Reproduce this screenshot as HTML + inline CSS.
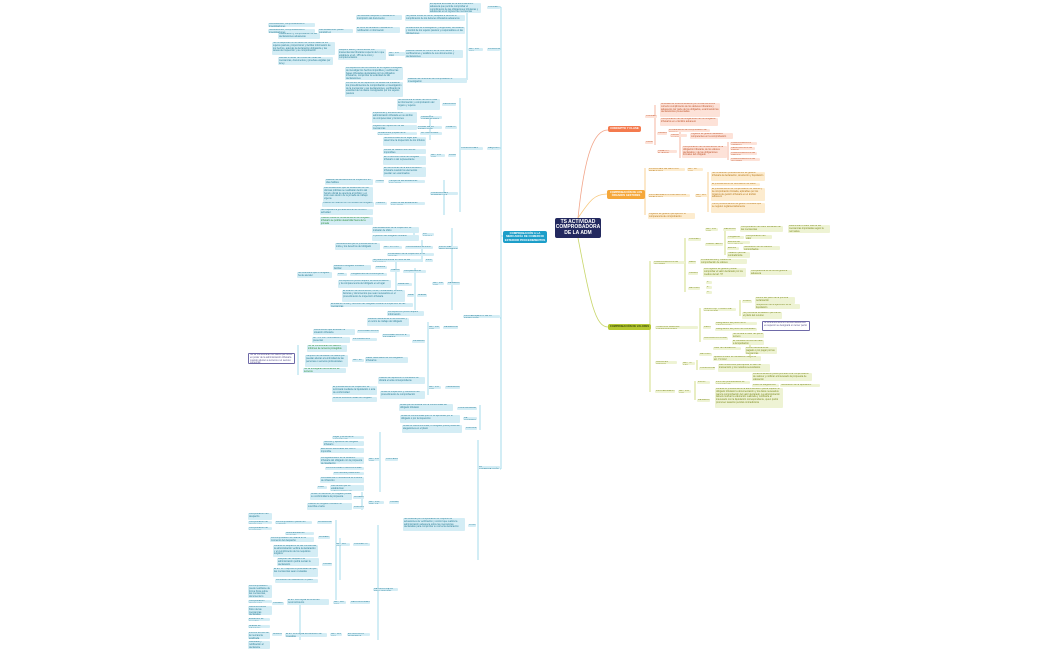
<!DOCTYPE html>
<html><head><meta charset="utf-8"><style>
html,body{margin:0;padding:0;background:#fff;}
#c{position:relative;width:1050px;height:650px;overflow:hidden;font-family:"Liberation Sans",sans-serif;}
#c i{position:absolute;display:block;font-style:normal;font-size:2.4px;line-height:2.8px;color:#2b7f98;background:#d4edf5;border-radius:1px;overflow:hidden;padding:0 1px;box-sizing:border-box;}
#c i.o{background:#fde2d8;color:#c0562d;}
#c i.y{background:#fdeccf;color:#b7791a;}
#c i.g{background:#eef3d4;color:#7c8a1c;}
#c i.w{background:#fff;border:1px solid #6f6aa8;color:#5b5690;}
#c i.t{color:#2d8f3a;}
.m{position:absolute;color:#fff;font-weight:bold;text-align:center;border-radius:2px;display:flex;align-items:center;justify-content:center;line-height:1.1;}
svg{position:absolute;left:0;top:0;}
</style></head><body><div id="c">
<svg width="1050" height="650" fill="none" stroke-width="0.8">
<g stroke="#8fd3e6">
<path d="M503 236 H501 M501 7 V469"/>
<path d="M501 7 H500 M501 49 H500 M501 148 H500 M501 318 H500 M501 469 H500"/>
<path d="M467 7 V80 M460 98 V212 M430 115 V140 M444 180 V215 M452 228 V310 M422 240 V262 M415 268 V310 M428 322 V395 M480 405 V430 M478 440 V560 M380 432 V492 M362 492 V510 M378 525 V640 M336 520 V600 M340 538 V580 M300 600 V640 M298 345 V375 M396 260 V300 M414 232 V240"/>
</g>
<g stroke="#f2a58a"><path d="M578 218 C585 150,595 130,608 130"/><path d="M655 105 V145 M680 130 V158 M728 142 V160"/></g>
<g stroke="#f8c77a"><path d="M578 218 C590 200,595 194,607 194"/><path d="M645 168 V215 M708 172 V212"/></g>
<g stroke="#c8d66a"><path d="M578 238 C590 300,595 327,608 327"/><path d="M650 261 V392 M685 238 V292 M700 308 V342 M725 228 V255 M697 360 V370 M695 381 V400 M740 300 V316 M750 345 V360"/></g>
</svg>

<div class="m" style="left:555px;top:218px;width:46px;height:20px;background:#23295f;font-size:5px;">TS ACTIVIDAD COMPROBADORA DE LA ADM</div>
<div class="m" style="left:503px;top:231px;width:44px;height:12px;background:#1c9ec9;font-size:2.8px;">COMPROBACIÓN A LA MERCANCÍA DE COMERCIO EXTERIOR PROCEDIMIENTOS</div>
<div class="m" style="left:608px;top:126px;width:33px;height:6px;background:#f47a4e;font-size:2.8px;">CONCEPTO Y CLASE</div>
<div class="m" style="left:607px;top:190px;width:38px;height:9px;background:#f5a73a;font-size:2.6px;">COMPROBACIÓN DE LOS ÓRGANOS GESTORES</div>
<div class="m" style="left:608px;top:324px;width:43px;height:6px;background:#b5c832;font-size:2.6px;color:#3a4a08;">COMPROBACIÓN DE VALORES</div>

<!-- left side -->
<i style="left:429px;top:3px;width:52px;height:10px">Es aquella actividad de la administración aduanera que permite comprobar el cumplimiento de las obligaciones tributarias y aduaneras en el ingreso de mercancías</i>
<i style="left:487px;top:6px;width:13px;height:3px">CONCEPTO</i>
<i style="left:356px;top:15px;width:46px;height:5px">Se efectúan después o mediante la inscripción del documento</i>
<i style="left:405px;top:15px;width:60px;height:6px">Se puede iniciar de oficio, después a verificar el cumplimiento de los deberes tributarios aduaneros</i>
<i style="left:268px;top:23px;width:47px;height:4px">Verificaciones, comprobaciones e investigaciones</i>
<i style="left:268px;top:29px;width:47px;height:4px">Notificaciones, comprobaciones e investigaciones</i>
<i style="left:318px;top:29px;width:35px;height:4px">Las actuaciones puede consistir en</i>
<i style="left:356px;top:27px;width:44px;height:6px">El inicio de actuación mediante la notificación o información</i>
<i style="left:405px;top:27px;width:60px;height:7px">Actuaciones de investigación y diligencias, verificación y control de los sujetos pasivos y responsables en las obligaciones</i>
<i style="left:278px;top:33px;width:42px;height:6px">Clasificación y comprobación de las declaraciones aduaneras</i>
<i style="left:272px;top:42px;width:63px;height:13px">Se corresponde con el deber de conformidad de los sujetos pasivos, proporcionar y facilitar información de los hechos, además la declaración obligatoria y las tareas de inspección y su comprobación</i>
<i style="left:278px;top:57px;width:55px;height:8px">Revisar el deber de conservar todas las mercancías, documentos y pruebas exigidas por la ley</i>
<i style="left:338px;top:49px;width:48px;height:11px">Requerir datos y documentos con trascendencia tributaria respecto de lo que establece el art. 155 de la LGA y complementarios</i>
<i style="left:388px;top:52px;width:17px;height:4px">ART. 155 LGA</i>
<i style="left:405px;top:50px;width:58px;height:8px">Realizar tareas de control de la información y verificaciones y análisis de sus documentos y declaraciones</i>
<i style="left:468px;top:48px;width:15px;height:3px">ART. 145 LGA</i>
<i style="left:487px;top:48px;width:13px;height:3px">FUNCIONES</i>
<i style="left:345px;top:67px;width:58px;height:13px">La inspección de los tributos es el órgano encargado de investigar los hechos imponibles y verificar las bases tributarias declaradas por los obligados tributarios, comprobar la veracidad de las declaraciones</i>
<i style="left:345px;top:82px;width:58px;height:15px">La función de la inspección se desarrolla mediante los procedimientos de comprobación e investigación de la mercancía y sus declaraciones, verificando la exactitud de los datos consignados por los sujetos pasivos</i>
<i style="left:407px;top:78px;width:60px;height:5px">Realizar las funciones de comprobación e investigación</i>
<i style="left:397px;top:99px;width:43px;height:11px">Se encuentra el deber de reunir toda la información y comprobación del órgano y sujetos</i>
<i style="left:442px;top:103px;width:14px;height:3px">PERSONAL</i>
<i style="left:372px;top:112px;width:45px;height:11px">Inspectores y técnicos de la administración tributaria en su ámbito de competencias y funciones</i>
<i style="left:420px;top:116px;width:22px;height:3px">ÓRGANOS COMPETENTES</i>
<i style="left:372px;top:125px;width:45px;height:5px">Lugares de inspección de las mercancías</i>
<i style="left:417px;top:126px;width:25px;height:3px">LUGAR DE LA INSPECCIÓN</i>
<i style="left:445px;top:126px;width:12px;height:3px">OBJETO</i>
<i style="left:377px;top:132px;width:40px;height:3px">Actuaciones propias de la inspección</i>
<i style="left:420px;top:132px;width:22px;height:3px">ACTUACIONES</i>
<i style="left:383px;top:137px;width:43px;height:9px">Se lleva a cabo en el lugar que determine la inspección de los tributos</i>
<i style="left:383px;top:149px;width:43px;height:5px">Donde se realicen los hechos imponibles</i>
<i style="left:383px;top:156px;width:43px;height:9px">En el domicilio fiscal del obligado tributario o del representante</i>
<i style="left:383px;top:167px;width:43px;height:10px">En las oficinas de la administración tributaria cuando los elementos puedan ser examinados</i>
<i style="left:430px;top:154px;width:15px;height:3px">ART. 151 LGT</i>
<i style="left:448px;top:154px;width:8px;height:3px">LUGAR</i>
<i style="left:460px;top:147px;width:23px;height:3px">CONDICIONES</i>
<i style="left:487px;top:147px;width:13px;height:3px">REQUISITOS</i>
<i style="left:325px;top:179px;width:48px;height:6px">Realizar las actuaciones de inspección en días hábiles</i>
<i style="left:375px;top:180px;width:9px;height:3px">HORARIO</i>
<i style="left:388px;top:180px;width:37px;height:3px">Tiempo de las actuaciones inspectoras</i>
<i style="left:323px;top:187px;width:50px;height:15px">Las actuaciones que se desarrollen en las oficinas públicas se realizarán dentro del horario oficial de apertura al público y en todo caso dentro de la jornada de trabajo vigente</i>
<i style="left:322px;top:202px;width:52px;height:5px">Cuando se realicen en los locales del obligado</i>
<i style="left:320px;top:209px;width:53px;height:6px">Se respetará la jornada laboral de oficina o actividad</i>
<i class="t" style="left:320px;top:217px;width:53px;height:8px">Cuando medie el consentimiento del obligado tributario se podrán desarrollar fuera de la jornada</i>
<i style="left:375px;top:202px;width:12px;height:3px">TIEMPO</i>
<i style="left:390px;top:202px;width:35px;height:3px">Plazo de las actuaciones inspectoras</i>
<i style="left:430px;top:192px;width:28px;height:3px">CONDICIONES TEMPORALES</i>
<i style="left:372px;top:227px;width:47px;height:6px">Las actuaciones de la inspección se iniciarán de oficio</i>
<i style="left:372px;top:235px;width:47px;height:6px">A petición del obligado tributario</i>
<i style="left:422px;top:233px;width:12px;height:3px">Por iniciativa</i>
<i style="left:438px;top:246px;width:20px;height:3px">INICIO DEL PROCEDIMIENTO</i>
<i style="left:335px;top:243px;width:45px;height:7px">Notificaciones que el procedimiento se inicia y los derechos del obligado</i>
<i style="left:383px;top:246px;width:19px;height:3px">ART. 147 LGT</i>
<i style="left:405px;top:246px;width:28px;height:3px">Comunicación de inicio</i>
<i style="left:387px;top:253px;width:47px;height:3px">Personación de la inspección en el domicilio</i>
<i style="left:372px;top:259px;width:50px;height:3px">Se podrá comunicar el inicio de las actuaciones</i>
<i style="left:425px;top:259px;width:8px;height:3px">Inicio</i>
<i style="left:333px;top:265px;width:38px;height:5px">Deberá el obligado tributario facilitar</i>
<i style="left:375px;top:266px;width:12px;height:3px">Deberes</i>
<i style="left:297px;top:272px;width:35px;height:6px">Se entenderá que el obligado ha de atender</i>
<i style="left:337px;top:273px;width:10px;height:3px">Plazo</i>
<i style="left:350px;top:273px;width:37px;height:3px">Obligaciones del contribuyente</i>
<i style="left:390px;top:269px;width:10px;height:3px">Citación</i>
<i style="left:403px;top:270px;width:23px;height:3px">Comparecencia</i>
<i style="left:338px;top:280px;width:53px;height:8px">La inspección podrá requerir la documentación y la comparecencia del obligado en el lugar</i>
<i style="left:397px;top:283px;width:15px;height:3px">Desarrollo</i>
<i style="left:342px;top:290px;width:63px;height:12px">El examen de documentos, libros, contabilidad, ficheros, facturas y documentos que sean necesarios en el procedimiento de inspección tributaria</i>
<i style="left:407px;top:294px;width:7px;height:3px">Medios</i>
<i style="left:417px;top:294px;width:10px;height:3px">Análisis</i>
<i style="left:330px;top:303px;width:83px;height:4px">Entrada en fincas y domicilio del obligado durante la inspección de las mercancías</i>
<i style="left:432px;top:282px;width:12px;height:3px">ART. 142 LGT</i>
<i style="left:447px;top:282px;width:13px;height:3px">DESARROLLO</i>
<i style="left:463px;top:315px;width:37px;height:3px">PROCEDIMIENTO DE LA INSPECCIÓN</i>
<i style="left:387px;top:311px;width:37px;height:5px">La inspección podrá requerir información</i>
<i style="left:367px;top:318px;width:42px;height:8px">Deberá mantenerse en el domicilio y el centro de trabajo del obligado</i>
<i style="left:428px;top:326px;width:12px;height:3px">ART. 142 LGT</i>
<i style="left:443px;top:326px;width:15px;height:3px">DESARROLLO</i>
<i style="left:313px;top:329px;width:42px;height:6px">Documentos que acrediten la situación tributaria</i>
<i style="left:357px;top:330px;width:22px;height:3px">DOCUMENTACIÓN</i>
<i style="left:312px;top:337px;width:38px;height:6px">Art. 171 LGT información a presentar</i>
<i style="left:352px;top:338px;width:25px;height:3px">INFORMACIÓN</i>
<i style="left:382px;top:334px;width:28px;height:3px">DOCUMENTACIÓN E INFORMES</i>
<i style="left:412px;top:340px;width:13px;height:3px">DILIGENCIAS</i>
<i class="w" style="left:248px;top:353px;width:47px;height:11px">No se comunicarán los datos que obren en poder de la administración tributaria cuando afecten a terceros o el secreto comercial</i>
<i class="t" style="left:307px;top:345px;width:40px;height:7px">No se comunicarán los datos e informes de terceros protegidos</i>
<i style="left:305px;top:355px;width:43px;height:12px">Tampoco se facilitarán los datos que puedan afectar a la intimidad de las personas o secretos profesionales</i>
<i class="t" style="left:303px;top:368px;width:43px;height:5px">No se entregarán documentos de terceros</i>
<i style="left:352px;top:359px;width:12px;height:3px">ART. 99</i>
<i style="left:365px;top:357px;width:43px;height:6px">Datos reservados de los obligados tributarios</i>
<i style="left:378px;top:377px;width:47px;height:7px">Cuando la inspección lo considere se dictará el acta correspondiente</i>
<i style="left:332px;top:386px;width:45px;height:9px">El procedimiento de inspección se terminará mediante la liquidación o acta de conformidad</i>
<i style="left:332px;top:397px;width:45px;height:5px">Acta de disconformidad del obligado</i>
<i style="left:380px;top:391px;width:45px;height:8px">Actas de inspección y resolución del procedimiento de comprobación</i>
<i style="left:428px;top:386px;width:13px;height:3px">ART. 153 LGT</i>
<i style="left:445px;top:386px;width:15px;height:3px">TERMINACIÓN</i>
<i style="left:399px;top:404px;width:54px;height:7px">Actas que se levanta con la conformidad del obligado tributario</i>
<i style="left:457px;top:407px;width:20px;height:3px">CONFORMIDAD</i>
<i style="left:400px;top:415px;width:60px;height:8px">Actas de conformidad que no se aprueban por el obligado o por la inspección</i>
<i style="left:463px;top:417px;width:14px;height:3px">DE ACUERDO</i>
<i style="left:402px;top:425px;width:60px;height:8px">Actas de disconformidad, el obligado podrá presentar alegaciones en el plazo</i>
<i style="left:465px;top:427px;width:12px;height:3px">DISCONF.</i>
<i style="left:478px;top:466px;width:22px;height:3px">LA COMPROBACIÓN</i>
<i style="left:332px;top:436px;width:32px;height:3px">Lugar y fecha de la comprobación</i>
<i style="left:323px;top:441px;width:41px;height:5px">Nombre y apellidos del obligado tributario</i>
<i style="left:320px;top:448px;width:44px;height:5px">Elementos esenciales del hecho imponible</i>
<i style="left:320px;top:457px;width:44px;height:7px">La regularización de la situación tributaria del obligado con la propuesta de liquidación</i>
<i style="left:325px;top:467px;width:39px;height:3px">La conformidad o disconformidad</i>
<i style="left:333px;top:472px;width:31px;height:3px">Los trámites posteriores</i>
<i style="left:320px;top:477px;width:44px;height:6px">La existencia o inexistencia de indicios de infracción</i>
<i style="left:317px;top:486px;width:10px;height:3px">Plazo</i>
<i style="left:330px;top:485px;width:34px;height:6px">Las demás que se establezcan reglamentariamente</i>
<i style="left:368px;top:458px;width:12px;height:3px">ART. 153 LGT</i>
<i style="left:385px;top:458px;width:13px;height:3px">CONTENIDO</i>
<i style="left:310px;top:493px;width:42px;height:7px">Actas con acuerdo, el obligado presta su conformidad a la propuesta</i>
<i style="left:307px;top:503px;width:45px;height:7px">Cuando el obligado tributario no suscriba el acta</i>
<i style="left:353px;top:496px;width:11px;height:3px">ACUERDO</i>
<i style="left:353px;top:506px;width:11px;height:3px">DISCONF.</i>
<i style="left:368px;top:501px;width:16px;height:3px">ART. 154-157 LGT</i>
<i style="left:389px;top:501px;width:10px;height:3px">CLASES</i>
<i style="left:403px;top:518px;width:62px;height:13px">Se entiende por comprobación el conjunto de actuaciones de verificación y control que realiza la administración aduanera sobre las mercancías declaradas para comprobar su correcta declaración</i>
<i style="left:468px;top:524px;width:8px;height:3px">OTROS</i>
<i style="left:248px;top:513px;width:24px;height:7px">Comprobación del despacho</i>
<i style="left:248px;top:521px;width:24px;height:3px">Comprobación de documentos</i>
<i style="left:248px;top:527px;width:24px;height:3px">Comprobación de mercancías</i>
<i style="left:275px;top:521px;width:37px;height:3px">La comprobación puede ser realizada</i>
<i style="left:317px;top:521px;width:15px;height:3px">MODALIDADES</i>
<i style="left:285px;top:532px;width:29px;height:3px">Automatizada del despacho</i>
<i style="left:270px;top:537px;width:44px;height:5px">La comprobación se realiza en el momento del despacho</i>
<i style="left:318px;top:536px;width:12px;height:3px">MOMENTO</i>
<i style="left:273px;top:545px;width:45px;height:12px">Durante el despacho de las mercancías, la administración verifica la declaración y el cumplimiento de los requisitos exigidos</i>
<i style="left:277px;top:558px;width:42px;height:8px">Después del despacho la administración podrá revisar la declaración</i>
<i style="left:273px;top:568px;width:45px;height:9px">El art. 127 dispone la posibilidad de que las mercancías sean revisadas</i>
<i style="left:275px;top:579px;width:43px;height:4px">La revisión se realizará en el plazo</i>
<i style="left:322px;top:563px;width:10px;height:3px">CLASES</i>
<i style="left:335px;top:543px;width:15px;height:3px">ART. 126 LGA</i>
<i style="left:353px;top:543px;width:17px;height:3px">CONCEPTO</i>
<i style="left:373px;top:588px;width:25px;height:3px">REVISIÓN DE LA DECLARACIÓN</i>
<i style="left:248px;top:585px;width:24px;height:13px">La comprobación puede realizarse de forma física sobre las mercancías, documental o mediante análisis</i>
<i style="left:248px;top:600px;width:24px;height:3px">Comprobación documental</i>
<i style="left:248px;top:606px;width:24px;height:9px">Reconocimiento físico de las mercancías declaradas</i>
<i style="left:272px;top:602px;width:12px;height:3px">CLASES</i>
<i style="left:287px;top:599px;width:42px;height:6px">El art. 128 regula la forma del reconocimiento</i>
<i style="left:333px;top:601px;width:13px;height:3px">ART. 128 LGA</i>
<i style="left:350px;top:601px;width:20px;height:3px">RECONOCIMIENTO</i>
<i style="left:248px;top:618px;width:22px;height:3px">Extracción de muestras</i>
<i style="left:248px;top:625px;width:22px;height:3px">Análisis de laboratorio</i>
<i style="left:248px;top:632px;width:22px;height:7px">Informe técnico de la mercancía analizada</i>
<i style="left:248px;top:641px;width:22px;height:8px">Resultado y notificación al declarante</i>
<i style="left:272px;top:633px;width:10px;height:3px">ANÁLISIS</i>
<i style="left:285px;top:633px;width:42px;height:4px">El art. 129 regula la extracción de muestras</i>
<i style="left:330px;top:633px;width:12px;height:3px">ART. 129 LGA</i>
<i style="left:347px;top:633px;width:23px;height:3px">EXTRACCIÓN MUESTRAS</i>

<!-- right side -->
<i class="o" style="left:645px;top:115px;width:12px;height:3px">CONCEPTO</i>
<i class="o" style="left:660px;top:103px;width:60px;height:14px">Actividad de la Administración por la cual verifica el correcto cumplimiento de los deberes tributarios y aduaneros por parte de los obligados, examinando las declaraciones presentadas</i>
<i class="o" style="left:660px;top:118px;width:58px;height:8px">Comprobación de las obligaciones de los obligados tributarios en el ámbito aduanero</i>
<i class="o" style="left:645px;top:141px;width:8px;height:3px">CLASE</i>
<i class="o" style="left:657px;top:132px;width:10px;height:3px">ÓRGANOS</i>
<i class="o" style="left:668px;top:129px;width:42px;height:3px">Procedimiento de comprobación de órganos</i>
<i class="o" style="left:670px;top:134px;width:17px;height:3px">Oficina gestora</i>
<i class="o" style="left:690px;top:133px;width:43px;height:6px">Órganos de gestión aduanera competentes en la comprobación</i>
<i class="o" style="left:657px;top:150px;width:20px;height:3px">OBJETO Y SUJETOS</i>
<i class="o" style="left:682px;top:146px;width:45px;height:12px">Comprobación de los elementos de la obligación tributaria, de los valores declarados y de las obligaciones formales del obligado</i>
<i class="o" style="left:730px;top:142px;width:27px;height:3px">COMPROBACIÓN LIMITADA</i>
<i class="o" style="left:730px;top:147px;width:25px;height:3px">VERIFICACIÓN DE DATOS</i>
<i class="o" style="left:730px;top:152px;width:27px;height:3px">COMPROBACIÓN DE ORIGEN</i>
<i class="o" style="left:730px;top:158px;width:30px;height:3px">COMPROBACIÓN DE VALORES</i>

<i class="y" style="left:648px;top:168px;width:37px;height:3px">FUNCIONES DE GESTIÓN TRIBUTARIA</i>
<i class="y" style="left:687px;top:168px;width:16px;height:3px">ART. 117 LGT</i>
<i class="y" style="left:648px;top:194px;width:42px;height:3px">PROCEDIMIENTOS DE GESTIÓN TRIBUTARIA</i>
<i class="y" style="left:695px;top:194px;width:13px;height:3px">ART. 123 LGT</i>
<i class="y" style="left:711px;top:172px;width:54px;height:9px">Se consideran procedimientos de gestión tributaria la declaración, devolución y liquidación</i>
<i class="y" style="left:711px;top:183px;width:49px;height:3px">El procedimiento de verificación de datos</i>
<i class="y" style="left:711px;top:188px;width:54px;height:13px">El procedimiento de comprobación de valores y la comprobación limitada, aplicables por los órganos de gestión tributaria en el ámbito aduanero</i>
<i class="y" style="left:711px;top:203px;width:54px;height:10px">Otros procedimientos de gestión tributaria que se regulen reglamentariamente</i>
<i class="y" style="left:648px;top:213px;width:47px;height:6px">Órganos de gestión que ejercen la competencia de comprobación</i>

<i class="g" style="left:653px;top:261px;width:32px;height:3px">COMPROBACIÓN DE VALORES</i>
<i class="g" style="left:688px;top:238px;width:13px;height:3px">CONCEPTO</i>
<i class="g" style="left:705px;top:228px;width:13px;height:3px">ART. 134 LGT</i>
<i class="g" style="left:723px;top:228px;width:13px;height:3px">DEFINICIÓN</i>
<i class="g" style="left:740px;top:226px;width:43px;height:6px">Comprobación del valor declarado de las mercancías</i>
<i class="g" style="left:788px;top:225px;width:42px;height:8px">Determinar el valor real de las mercancías importadas según la normativa</i>
<i class="g" style="left:705px;top:243px;width:18px;height:3px">CARACTERÍSTICAS</i>
<i class="g" style="left:727px;top:236px;width:17px;height:3px">Obligatoria</i>
<i class="g" style="left:745px;top:235px;width:27px;height:4px">Comprobación del valor</i>
<i class="g" style="left:727px;top:241px;width:23px;height:3px">Efectos del procedimiento</i>
<i class="g" style="left:727px;top:247px;width:12px;height:3px">Efectos</i>
<i class="g" style="left:743px;top:246px;width:37px;height:4px">Notificación de los valores comprobados</i>
<i class="g" style="left:727px;top:252px;width:23px;height:6px">Tasación pericial contradictoria</i>
<i class="g" style="left:688px;top:261px;width:8px;height:3px">MEDIOS</i>
<i class="g" style="left:700px;top:259px;width:47px;height:5px">Procedimientos y medios de comprobación de valores</i>
<i class="g" style="left:688px;top:272px;width:10px;height:3px">ÓRGANOS</i>
<i class="g" style="left:703px;top:268px;width:43px;height:9px">Los órganos de gestión podrán comprobar el valor declarado por los medios del art. 57</i>
<i class="g" style="left:750px;top:270px;width:42px;height:5px">Competencia de la oficina gestora aduanera</i>
<i class="g" style="left:688px;top:287px;width:12px;height:3px">MÉTODOS</i>
<i class="g" style="left:706px;top:281px;width:6px;height:3px">1º</i>
<i class="g" style="left:706px;top:286px;width:6px;height:3px">2º</i>
<i class="g" style="left:706px;top:291px;width:6px;height:3px">3º</i>
<i class="g" style="left:655px;top:326px;width:43px;height:3px">TASACIÓN PERICIAL CONTRADICTORIA</i>
<i class="g" style="left:703px;top:308px;width:33px;height:3px">SOLICITUD Y PLAZO DE ACTUACIÓN</i>
<i class="g" style="left:742px;top:300px;width:10px;height:3px">PLAZO</i>
<i class="g" style="left:755px;top:297px;width:40px;height:7px">Dentro del plazo de la primera reclamación</i>
<i class="g" style="left:755px;top:304px;width:45px;height:5px">Suspensión de la ejecución de la liquidación</i>
<i class="g" style="left:742px;top:312px;width:40px;height:7px">Se promueve la tasación pericial en el plazo del recurso</i>
<i class="g" style="left:703px;top:326px;width:8px;height:3px">PERITOS</i>
<i class="g" style="left:715px;top:322px;width:42px;height:3px">Designación del perito de la administración</i>
<i class="g" style="left:715px;top:328px;width:42px;height:3px">Designación del perito del interesado</i>
<i class="w" style="left:762px;top:321px;width:48px;height:10px">Si la diferencia entre ambas tasaciones es superior se designará un tercer perito</i>
<i class="g" style="left:703px;top:337px;width:25px;height:3px">VALORACIÓN FINAL</i>
<i class="g" style="left:732px;top:333px;width:32px;height:5px">Se tomará el valor del perito tercero</i>
<i class="g" style="left:732px;top:340px;width:32px;height:5px">El resultado servirá de base a la liquidación</i>
<i class="g" style="left:655px;top:361px;width:22px;height:3px">VALOR EN ADUANA</i>
<i class="g" style="left:682px;top:362px;width:13px;height:3px">ART. 70 CAU</i>
<i class="g" style="left:699px;top:353px;width:13px;height:3px">MÉTODO</i>
<i class="g" style="left:713px;top:347px;width:28px;height:3px">Valor de transacción</i>
<i class="g" style="left:745px;top:347px;width:32px;height:7px">Precio efectivamente pagado o por pagar por las mercancías</i>
<i class="g" style="left:713px;top:356px;width:48px;height:5px">Ajustes al valor de transacción según el art. 71 CAU</i>
<i class="g" style="left:699px;top:367px;width:16px;height:3px">CONDICIONES</i>
<i class="g" style="left:718px;top:364px;width:52px;height:8px">Las condiciones para aplicar el valor de transacción y los métodos secundarios</i>
<i class="g" style="left:655px;top:390px;width:20px;height:3px">PROCEDIMIENTO</i>
<i class="g" style="left:678px;top:390px;width:13px;height:3px">ART. 134 LGT</i>
<i class="g" style="left:697px;top:381px;width:13px;height:3px">INICIO</i>
<i class="g" style="left:715px;top:381px;width:35px;height:3px">Inicio del procedimiento de comprobación</i>
<i class="g" style="left:752px;top:373px;width:60px;height:8px">La administración podrá proceder a la comprobación de valores y notificar al interesado la propuesta de valoración</i>
<i class="g" style="left:752px;top:384px;width:27px;height:3px">Plazo de alegaciones</i>
<i class="g" style="left:780px;top:384px;width:40px;height:3px">Notificación de la liquidación</i>
<i class="g" style="left:697px;top:399px;width:13px;height:3px">DESARROLLO</i>
<i class="g" style="left:715px;top:388px;width:68px;height:20px">Durante el procedimiento la administración podrá requerir al obligado tributario la documentación y los datos necesarios para la comprobación del valor declarado. La administración deberá motivar la valoración realizada y notificarla al interesado con la liquidación correspondiente, quien podrá promover tasación pericial contradictoria</i>
</div></body></html>
